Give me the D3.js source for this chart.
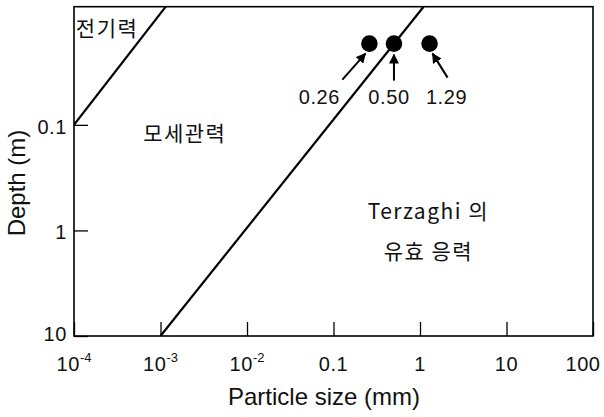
<!DOCTYPE html>
<html>
<head>
<meta charset="utf-8">
<script src="https://cdn.jsdelivr.net/npm/d3@7"></script>
<style>
  html, body { margin: 0; padding: 0; background: #fff; }
  svg { display: block; }
  .num { font-family: "Liberation Sans", Arial, sans-serif; font-size: 20px; letter-spacing: 0.6px; fill: #111; }
  .title { font-family: "Liberation Sans", Arial, sans-serif; font-size: 24px; fill: #111; }
  .ko { font-family: "Noto Sans CJK KR", sans-serif; font-size: 21px; fill: #111; letter-spacing: 1.5px; }
</style>
</head>
<body>
<svg id="chart" width="604" height="417"></svg>
<script>
// Particle size (mm) axis ticks and labels ("^" marks a superscript exponent)
const sizeTicks = [1e-4, 1e-3, 1e-2, 0.1, 1, 10, 100];
const sizeTickText = ["10^-4", "10^-3", "10^-2", "0.1", "1", "10", "100"];

// Depth (m) axis ticks and labels
const depthTicks = [0.1, 1, 10];
const depthTickText = ["0.1", "1", "10"];

// Axis extents
const sizeDomain = [1e-4, 100];
const depthDomain = [0.0076, 10];

// Boundary lines between force regimes: [size (mm), depth (m)]
const electricBoundary = [[1e-4, 0.1], [1.15e-3, 0.0076]];
const capillaryBoundary = [[1e-3, 10], [1.1, 0.0076]];

// Measured grain sizes at the sampling depth
const grainSizes = [0.26, 0.50, 1.29];
const grainLabels = ["0.26", "0.50", "1.29"];
const grainDepth = 0.017;

// Region names
const regionNames = ["전기력", "모세관력", "Terzaghi 의", "유효 응력"];

const svg = d3.select("#chart");
const plotL = 74, plotR = 593, plotT = 6.7, plotB = 336;

const x = d3.scaleLog().domain(sizeDomain).range([plotL, plotR]);
const y = d3.scaleLog().domain(depthDomain).range([plotT, plotB]);

// Boundary lines, clipped to the plot frame
svg.append("clipPath").attr("id", "plotClip")
  .append("rect").attr("x", plotL).attr("y", plotT)
  .attr("width", plotR - plotL).attr("height", plotB - plotT);

const line = d3.line().x(d => x(d[0])).y(d => y(d[1]));
svg.append("g").attr("clip-path", "url(#plotClip)")
  .selectAll("path").data([electricBoundary, capillaryBoundary]).join("path")
  .attr("d", line).attr("fill", "none").attr("stroke", "#000").attr("stroke-width", 2.2);

// Frame
svg.append("rect").attr("x", plotL).attr("y", plotT)
  .attr("width", plotR - plotL).attr("height", plotB - plotT)
  .attr("fill", "none").attr("stroke", "#000").attr("stroke-width", 1.6);

// Bottom axis: inward ticks, labels with superscripts
const xAxis = d3.axisBottom(x).tickValues(sizeTicks).tickSizeInner(-14).tickSizeOuter(0).tickFormat("");
const gx = svg.append("g").attr("transform", `translate(0,${plotB})`).call(xAxis);
gx.select(".domain").remove();
gx.selectAll(".tick line").attr("stroke", "#000").attr("stroke-width", 1.3);

const xLabels = svg.append("g");
sizeTicks.forEach((v, i) => {
  const parts = sizeTickText[i].split("^");
  let cx = x(v);
  if (i === sizeTicks.length - 1) cx -= 10;
  const t = xLabels.append("text").attr("class", "num")
    .attr("x", cx).attr("y", 371).attr("text-anchor", "middle");
  t.append("tspan").text(parts[0]);
  if (parts[1]) {
    t.append("tspan").attr("dy", -9).attr("font-size", 13).attr("letter-spacing", 0).text(parts[1]);
  }
});

// Left axis: inward ticks
const yAxis = d3.axisLeft(y).tickValues(depthTicks).tickSizeInner(-14).tickSizeOuter(0)
  .tickFormat((d, i) => depthTickText[i]);
const gy = svg.append("g").attr("transform", `translate(${plotL},0)`).call(yAxis);
gy.select(".domain").remove();
gy.attr("font-size", null).attr("font-family", null);
gy.selectAll(".tick line").attr("stroke", "#000").attr("stroke-width", 1.3);
gy.selectAll(".tick text").attr("class", "num").attr("fill", null)
  .attr("x", -7).attr("dy", "0.42em");
gy.selectAll(".tick").filter(d => d === 10).select("text").attr("dy", "0.2em");

// Axis titles
svg.append("text").attr("class", "title").attr("x", 324).attr("y", 405)
  .attr("text-anchor", "middle").text("Particle size (mm)");
svg.append("text").attr("class", "title")
  .attr("transform", `translate(25,183) rotate(-90)`)
  .attr("text-anchor", "middle").text("Depth (m)");

// Grain-size points with pointer arrows and value labels
const defs = svg.append("defs");
defs.append("marker").attr("id", "head").attr("viewBox", "0 0 10 10")
  .attr("refX", 9).attr("refY", 5).attr("markerWidth", 5).attr("markerHeight", 5)
  .attr("markerUnits", "strokeWidth").attr("orient", "auto")
  .append("path").attr("d", "M0,0 L10,5 L0,10 z").attr("fill", "#000");

const pointer = [
  { tip: [-4, 10], tail: [-27, 36], label: [-50, 60] },
  { tip: [0, 11], tail: [0, 37], label: [-5, 60] },
  { tip: [3, 10], tail: [18, 34], label: [17, 60] }
];

const pts = svg.append("g");
grainSizes.forEach((s, i) => {
  const cx = x(s), cy = y(grainDepth);
  const p = pointer[i];
  pts.append("circle").attr("cx", cx).attr("cy", cy).attr("r", 8.3).attr("fill", "#000");
  pts.append("line")
    .attr("x1", cx + p.tail[0]).attr("y1", cy + p.tail[1])
    .attr("x2", cx + p.tip[0]).attr("y2", cy + p.tip[1])
    .attr("stroke", "#000").attr("stroke-width", 2).attr("marker-end", "url(#head)");
  pts.append("text").attr("class", "num")
    .attr("x", cx + p.label[0]).attr("y", cy + p.label[1])
    .attr("text-anchor", "middle").text(grainLabels[i]);
});

// Region names
svg.append("text").attr("class", "ko").attr("x", x(1.05e-4)).attr("y", 36).text(regionNames[0]);
svg.append("text").attr("class", "ko").attr("x", x(6.3e-4)).attr("y", 141).text(regionNames[1]);
svg.append("text").attr("class", "ko").attr("x", x(1.25)).attr("y", 219)
  .attr("text-anchor", "middle").attr("letter-spacing", 0.5).text(regionNames[2]);
svg.append("text").attr("class", "ko").attr("x", x(1.25)).attr("y", 259)
  .attr("text-anchor", "middle").attr("letter-spacing", 3).text(regionNames[3]);
</script>
</body>
</html>
